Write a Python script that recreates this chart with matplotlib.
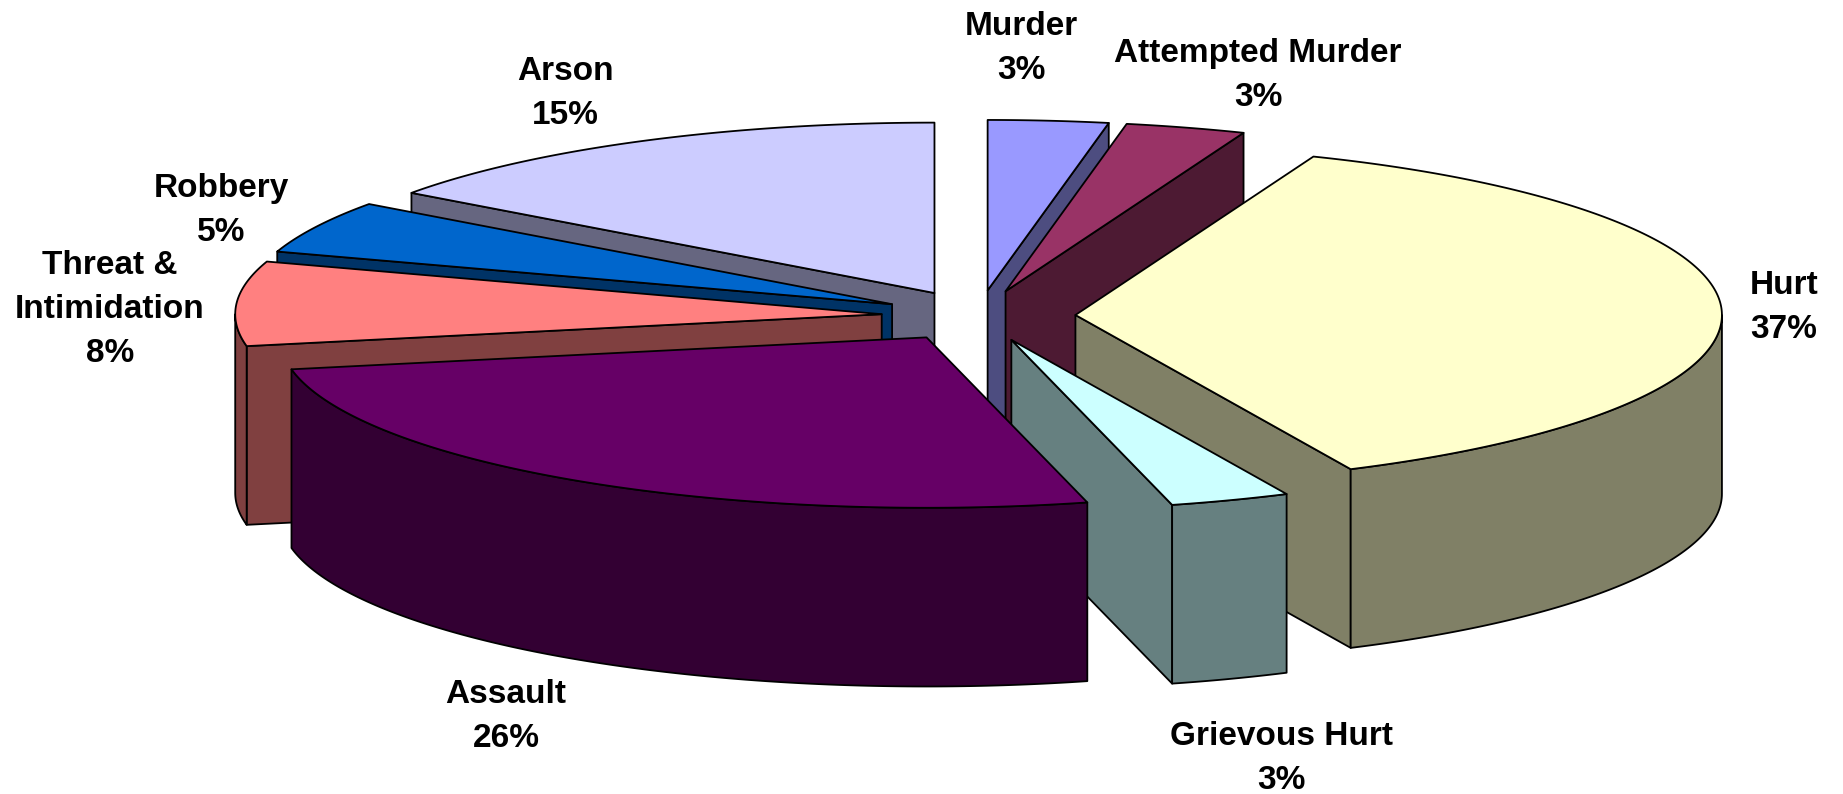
import numpy as np
import matplotlib
matplotlib.use("Agg")
import matplotlib.pyplot as plt
from matplotlib.patches import Polygon

# data, clockwise from 12 o'clock
categories = ["Murder", "Attempted Murder", "Hurt", "Grievous Hurt",
              "Assault", "Threat &\nIntimidation", "Robbery", "Arson"]
shares = [3, 3, 37, 3, 26, 8, 5, 15]
top_colors = ["#9999FF", "#993366", "#FFFFCC", "#CCFFFF",
              "#660066", "#FF8080", "#0066CC", "#CCCCFF"]
side_colors = ["#4D4D80", "#4D1A33", "#808066", "#668080",
               "#330033", "#804040", "#003366", "#666680"]

# label anchors: centre x, first baseline y (pixels)
label_x = [1021, 1258, 1784, 1281, 506, 110, 221, 565]
label_y = [35, 62, 294, 745, 703, 274, 197, 80]
LINE_STEP = 44

# layout (pixels of the 1843x794 canvas)
W, H = 1843, 794
CX, CY = 978.5, 315.8
RX, RY = 646.5, 170.4
DEPTH = 178.7
EXPLODE = 0.150


def point(theta, ox, oy, z, r=1.0):
    t = np.radians(theta)
    x = CX + RX * (ox + r * np.sin(t))
    y = CY - RY * (oy + r * np.cos(t)) + DEPTH * z
    return x, y


def arc(a, b, ox, oy, z):
    n = max(2, int(abs(b - a) * 2))
    th = np.linspace(a, b, n)
    xs, ys = point(th, ox, oy, z)
    return np.column_stack([xs, ys])


fig = plt.figure(figsize=(W / 100, H / 100), dpi=100)
ax = fig.add_axes([0, 0, 1, 1])
ax.set_xlim(0, W)
ax.set_ylim(H, 0)
ax.axis("off")

edges = np.cumsum([0] + shares) * 3.6
sides = []
tops = []
for i, share in enumerate(shares):
    a, b = edges[i], edges[i + 1]
    m = np.radians((a + b) / 2)
    ox, oy = EXPLODE * np.sin(m), EXPLODE * np.cos(m)
    apex_top = point(0, ox, oy, 0, r=0.0)
    apex_bot = point(0, ox, oy, 1, r=0.0)

    # cut faces that face the viewer
    for ang, visible in ((a, np.sin(np.radians(a)) < -1e-6),
                         (b, np.sin(np.radians(b)) > 1e-6)):
        if visible:
            quad = [apex_top, point(ang, ox, oy, 0), point(ang, ox, oy, 1), apex_bot]
            depth = oy + 0.5 * np.cos(np.radians(ang))
            sides.append((depth, np.array(quad), side_colors[i]))

    # outer wall, front half only
    lo, hi = max(a, 90), min(b, 270)
    if hi > lo:
        top_edge = arc(lo, hi, ox, oy, 0)
        bot_edge = arc(lo, hi, ox, oy, 1)[::-1]
        th = np.linspace(lo, hi, 50)
        depth = oy + np.mean(np.cos(np.radians(th)))
        sides.append((depth, np.vstack([top_edge, bot_edge]), side_colors[i]))

    tops.append((np.vstack([[apex_top], arc(a, b, ox, oy, 0)]), top_colors[i]))

for depth, xy, color in sorted(sides, key=lambda s: -s[0]):
    ax.add_patch(Polygon(xy, closed=True, facecolor=color, edgecolor="black",
                         linewidth=1.3, joinstyle="round"))
for xy, color in tops:
    ax.add_patch(Polygon(xy, closed=True, facecolor=color, edgecolor="black",
                         linewidth=1.3, joinstyle="round"))

for name, share, lx, ly in zip(categories, shares, label_x, label_y):
    lines = name.split("\n") + [f"{share}%"]
    for k, line in enumerate(lines):
        ax.text(lx, ly + k * LINE_STEP, line, ha="center", va="baseline",
                fontsize=24, fontweight="bold", family="Liberation Sans")

fig.savefig("out.png", dpi=100)
